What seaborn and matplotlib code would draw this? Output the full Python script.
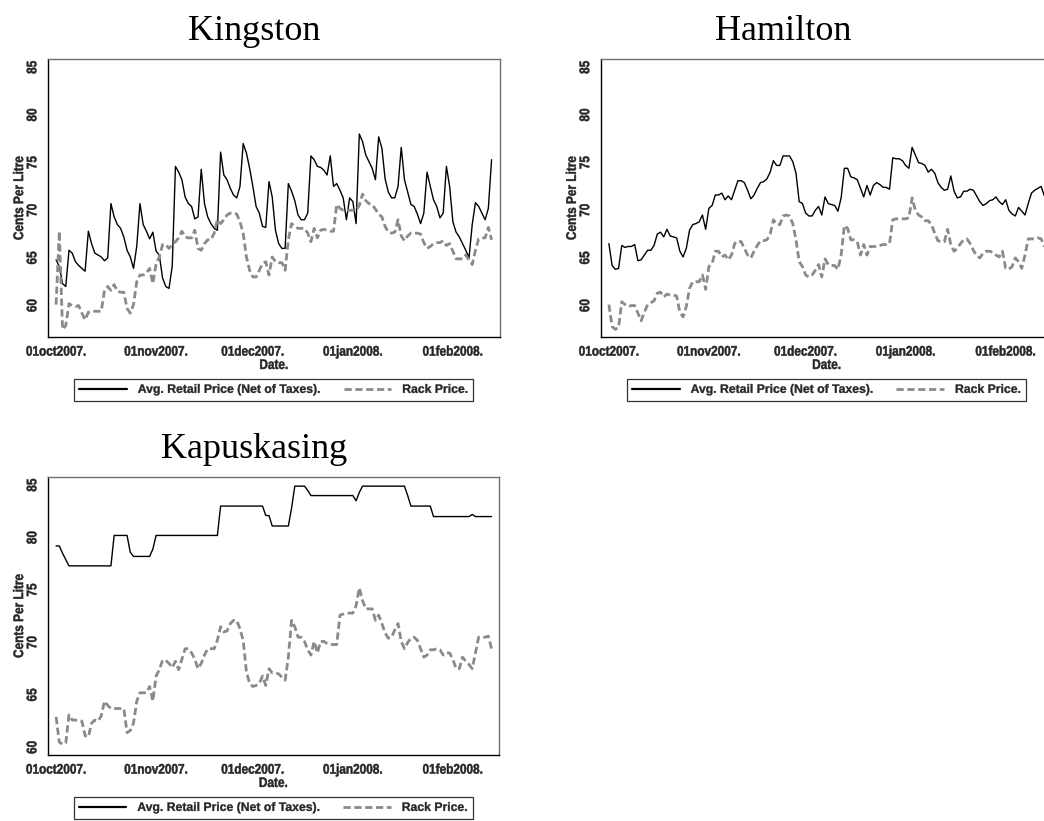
import matplotlib
matplotlib.use("Agg")
import matplotlib.pyplot as plt
import pandas as pd
import seaborn as sns
from matplotlib import font_manager
from matplotlib.patheffects import AbstractPathEffect
from matplotlib.transforms import Affine2D

# ---------------------------------------------------------------- data
start_date = "2007-10-01"

kingston_retail = [
    64.8, 64.1, 62.3, 62.0, 65.8, 65.5, 64.6, 64.2, 63.9, 63.6,
    67.8, 66.5, 65.5, 65.3, 65.1, 64.7, 65.0, 70.7, 69.3, 68.5,
    68.1, 67.2, 65.8, 65.1, 63.9, 66.2, 70.7, 68.5, 67.8, 67.0,
    67.7, 65.7, 65.3, 62.9, 62.0, 61.8, 64.1, 74.6, 74.0, 73.2,
    71.4, 70.7, 70.4, 69.1, 69.3, 74.3, 70.7, 69.3, 68.6, 68.1,
    67.9, 76.1, 73.7, 73.2, 72.3, 71.6, 71.3, 72.5, 77.0, 76.0,
    74.4, 72.5, 70.4, 69.7, 68.3, 68.2, 73.0, 71.4, 67.9, 66.5,
    66.0, 66.0, 72.8, 72.0, 71.0, 69.5, 69.0, 69.0, 69.7, 75.7,
    75.3, 74.6, 74.5, 74.2, 73.7, 75.7, 72.5, 72.8, 72.1, 71.3,
    69.0, 71.3, 70.9, 68.6, 78.0, 77.2, 75.8, 75.1, 74.4, 73.2,
    77.7, 76.5, 73.3, 71.9, 71.3, 71.3, 72.5, 76.6, 73.2, 71.9,
    70.6, 70.4, 69.6, 68.6, 69.7, 74.0, 72.5, 71.1, 70.4, 69.2,
    69.7, 74.6, 72.5, 68.8, 67.7, 67.2, 66.5, 65.8, 65.0, 68.5,
    70.8, 70.4, 69.7, 69.0, 70.2, 75.3,
]
kingston_rack = [
    60.1, 67.8, 57.5, 57.9, 60.2, 60.0, 59.9, 60.0, 59.2, 58.5,
    59.3, 59.4, 59.4, 59.4, 59.4, 61.6, 62.0, 61.6, 62.2, 61.5,
    61.4, 61.4, 59.7, 59.2, 60.1, 62.5, 63.2, 63.2, 63.4, 63.9,
    62.3, 64.4, 65.1, 66.4, 66.4, 66.0, 66.4, 66.7, 67.1, 67.8,
    67.2, 67.1, 67.1, 67.9, 66.0, 65.8, 66.5, 66.9, 66.9, 67.6,
    69.0, 68.6, 69.0, 69.5, 69.7, 69.7, 69.6, 68.8, 67.6, 65.1,
    63.7, 63.0, 63.0, 63.7, 64.4, 64.6, 63.2, 65.1, 64.6, 64.5,
    64.5, 63.7, 66.9, 68.6, 68.3, 68.1, 68.1, 68.1, 67.6, 66.7,
    68.1, 67.1, 67.9, 68.0, 67.9, 67.8, 67.8, 70.6, 70.2, 70.0,
    70.0, 70.0, 70.0, 70.0, 70.5, 71.7, 71.0, 70.7, 70.6, 70.1,
    69.6, 69.3, 68.3, 67.7, 67.6, 67.7, 69.0, 67.3, 66.8, 67.3,
    67.6, 67.6, 67.6, 67.5, 66.6, 66.0, 66.2, 66.5, 66.6, 66.6,
    66.8, 66.3, 66.5, 65.7, 64.9, 64.9, 64.9, 65.3, 64.8, 64.3,
    65.8, 67.0, 67.1, 67.1, 68.2, 66.9,
]
hamilton_retail = [
    66.5, 64.2, 63.8, 63.9, 66.3, 66.1, 66.2, 66.2, 66.4, 64.7,
    64.8, 65.3, 65.8, 65.8, 66.3, 67.5, 67.7, 67.2, 68.0, 67.3,
    67.2, 67.1, 65.7, 65.1, 66.0, 67.9, 68.5, 68.6, 68.8, 69.5,
    68.0, 70.2, 70.5, 71.6, 71.6, 71.8, 71.1, 71.5, 71.1, 72.1,
    73.1, 73.1, 72.9, 72.1, 71.2, 71.6, 72.3, 72.9, 73.0, 73.3,
    74.0, 75.2, 74.7, 74.7, 75.7, 75.7, 75.7, 75.1, 73.9, 70.9,
    70.7, 69.7, 69.4, 69.4, 70.0, 70.4, 69.5, 71.4, 70.7, 70.6,
    70.5, 69.9, 71.3, 74.4, 74.4, 73.5, 73.4, 73.2, 72.3, 71.4,
    72.6, 71.6, 72.6, 72.9, 72.7, 72.4, 72.4, 72.2, 75.5, 75.4,
    75.4, 75.2, 74.7, 74.4, 76.6, 75.8, 75.0, 74.9, 74.7, 74.0,
    74.3, 73.9, 72.9, 72.4, 72.1, 72.2, 73.6, 72.0, 71.3, 71.4,
    72.0, 72.0, 72.2, 72.1, 71.5, 70.9, 70.5, 70.7, 71.0, 71.1,
    71.4, 70.9, 70.6, 71.1, 70.0, 69.6, 69.4, 70.3, 69.9, 69.5,
    70.7, 71.8, 72.1, 72.3, 72.5, 71.5,
]
hamilton_rack = [
    60.1, 57.8, 57.5, 57.7, 60.4, 60.1, 59.9, 60.0, 60.0, 59.2,
    58.4, 59.3, 60.1, 60.3, 60.5, 61.3, 61.4, 60.9, 61.2, 61.1,
    61.1, 61.0, 59.3, 58.8, 59.9, 61.8, 62.5, 62.5, 62.5, 63.2,
    61.7, 64.1, 64.4, 65.7, 65.7, 65.1, 65.3, 64.8, 65.3, 66.5,
    66.8, 66.7, 66.0, 65.3, 65.0, 65.7, 66.3, 66.8, 66.8, 66.9,
    67.5, 69.0, 68.5, 68.5, 69.4, 69.5, 69.4, 68.6, 66.9, 64.6,
    64.1, 63.2, 63.0, 63.2, 63.7, 64.3, 63.0, 64.9, 64.3, 64.2,
    64.2, 63.8, 65.3, 68.4, 68.1, 66.9, 66.9, 66.7, 65.3, 66.4,
    65.3, 66.2, 66.2, 66.2, 66.3, 66.4, 66.4, 66.5, 69.0, 69.1,
    69.1, 69.1, 69.1, 69.2, 71.3, 70.0, 69.5, 69.3, 68.9, 68.9,
    68.5, 67.6, 66.8, 66.7, 66.7, 68.0, 66.4, 65.7, 66.0, 66.5,
    66.9, 67.0, 66.5, 65.8, 65.2, 65.0, 65.5, 65.7, 65.7, 65.6,
    65.3, 65.1, 65.7, 63.9, 63.8, 64.1, 65.0, 64.6, 63.9, 65.3,
    67.0, 67.0, 67.0, 67.1, 67.0, 66.2,
]
kapuskasing_retail = [
    79.2, 79.2, 78.5, 77.9, 77.3, 77.3, 77.3, 77.3, 77.3, 77.3,
    77.3, 77.3, 77.3, 77.3, 77.3, 77.3, 77.3, 77.3, 80.2, 80.2,
    80.2, 80.2, 80.2, 78.6, 78.2, 78.2, 78.2, 78.2, 78.2, 78.2,
    78.9, 80.2, 80.2, 80.2, 80.2, 80.2, 80.2, 80.2, 80.2, 80.2,
    80.2, 80.2, 80.2, 80.2, 80.2, 80.2, 80.2, 80.2, 80.2, 80.2,
    80.2, 83.0, 83.0, 83.0, 83.0, 83.0, 83.0, 83.0, 83.0, 83.0,
    83.0, 83.0, 83.0, 83.0, 83.0, 82.1, 82.1, 81.1, 81.1, 81.1,
    81.1, 81.1, 81.1, 82.8, 84.9, 84.9, 84.9, 84.9, 84.5, 84.0,
    84.0, 84.0, 84.0, 84.0, 84.0, 84.0, 84.0, 84.0, 84.0, 84.0,
    84.0, 84.0, 84.0, 83.5, 84.3, 84.9, 84.9, 84.9, 84.9, 84.9,
    84.9, 84.9, 84.9, 84.9, 84.9, 84.9, 84.9, 84.9, 84.9, 84.0,
    83.0, 83.0, 83.0, 83.0, 83.0, 83.0, 83.0, 82.0, 82.0, 82.0,
    82.0, 82.0, 82.0, 82.0, 82.0, 82.0, 82.0, 82.0, 82.0, 82.2,
    82.0, 82.0, 82.0, 82.0, 82.0, 82.0,
]
kapuskasing_rack = [
    62.9, 60.5, 60.3, 60.4, 63.1, 62.6, 62.6, 62.6, 62.5, 61.1,
    61.0, 62.3, 62.6, 62.5, 63.0, 64.4, 64.0, 63.7, 63.7, 63.7,
    63.7, 63.7, 61.4, 61.6, 62.3, 64.4, 65.2, 65.2, 65.2, 65.8,
    64.4, 66.8, 67.4, 68.3, 68.3, 68.0, 67.6, 68.2, 67.4, 68.4,
    69.4, 69.4, 69.0, 68.4, 67.5, 68.0, 68.8, 69.4, 69.4, 69.4,
    70.2, 71.5, 71.0, 71.1, 71.8, 72.1, 72.1, 71.3, 70.2, 67.2,
    66.1, 65.8, 65.9, 66.1, 66.8, 65.9, 67.5, 67.1, 67.1, 67.0,
    66.7, 66.4, 68.6, 72.1, 71.5, 70.5, 70.5, 70.1, 69.3, 68.8,
    70.1, 69.0, 70.1, 70.1, 69.9, 69.8, 69.8, 69.8, 72.6, 72.7,
    72.8, 72.8, 72.8, 73.5, 75.2, 74.0, 73.2, 73.2, 73.2, 72.1,
    72.6, 71.8, 70.9, 70.4, 70.5, 71.2, 71.8, 70.1, 69.4, 70.0,
    70.4, 70.5, 70.2, 69.4, 68.6, 68.8, 69.3, 69.3, 69.4, 69.3,
    68.8, 69.0, 69.0, 68.4, 67.5, 67.5, 68.6, 68.2, 67.9, 67.5,
    69.0, 70.5, 70.5, 70.5, 70.6, 69.4,
]

cities = ["Kingston", "Hamilton", "Kapuskasing"]
series_names = ["Avg. Retail Price (Net of Taxes).", "Rack Price."]
tick_dates = ["2007-10-01", "2007-11-01", "2007-12-01", "2008-01-01", "2008-02-01"]
tick_labels = ["01oct2007.", "01nov2007.", "01dec2007.", "01jan2008.", "01feb2008."]
y_ticks = [60, 65, 70, 75, 80, 85]
y_title = "Cents Per Litre"
x_title = "Date."


# ---------------------------------------------------------------- style
class Condense(AbstractPathEffect):
    """Squeeze glyph outlines along the text direction (a narrow, heavy-font look)."""

    def __init__(self, sx=0.85, stroke=0.0):
        super().__init__()
        self.sx = sx
        self.stroke = stroke

    def draw_path(self, renderer, gc, tpath, affine, rgbFace=None):
        ext = tpath.get_extents()
        cx = (ext.x0 + ext.x1) / 2
        squeeze = Affine2D().translate(-cx, 0).scale(self.sx, 1).translate(cx, 0)
        trans = squeeze + affine
        renderer.draw_path(gc, tpath, trans, rgbFace)
        if self.stroke > 0 and rgbFace is not None:
            gc2 = renderer.new_gc()
            gc2.copy_properties(gc)
            gc2.set_foreground(rgbFace)
            gc2.set_linewidth(self.stroke)
            renderer.draw_path(gc2, tpath, trans, None)
            gc2.restore()


sns.set_style("white")

names = {f.name for f in font_manager.fontManager.ttflist}
SANS = "Liberation Sans" if "Liberation Sans" in names else "DejaVu Sans"
SERIF = "Liberation Serif" if "Liberation Serif" in names else "DejaVu Serif"
plt.rcParams["font.family"] = [SANS, "DejaVu Sans"]

AX_FS = 10.0     # tick labels and axis titles (condensed)
LEG_FS = 8.8     # legend entries
RETAIL_COLOR = "#000000"
RACK_COLOR = "#8a8a8a"

W, H = 1044, 821
fig = plt.figure(figsize=(W / 100, H / 100), dpi=100)
fig.patch.set_facecolor("white")


def axes_px(left, top, right, bottom):
    return fig.add_axes([left / W, 1 - bottom / H, (right - left) / W, (bottom - top) / H])


panels = {
    "Kingston": dict(box=(47.7, 59, 500, 337), ylim=(56.7, 85.87), title=(254, 40),
                     retail=kingston_retail, rack=kingston_rack),
    "Hamilton": dict(box=(600.5, 59, 1052.8, 337), ylim=(56.7, 85.87), title=(783, 40),
                     retail=hamilton_retail, rack=hamilton_rack),
    "Kapuskasing": dict(box=(47.7, 476.7, 499, 755), ylim=(59.27, 85.8), title=(254, 458),
                        retail=kapuskasing_retail, rack=kapuskasing_rack),
}

t0 = pd.Timestamp(start_date)
DAY_PX = 100 / 31          # horizontal pixels per day
LEFT_PAD_DAYS = 2.6        # gap between y axis and first observation

for city in cities:
    p = panels[city]
    ax = axes_px(*p["box"])
    dates = pd.date_range(start_date, periods=len(p["retail"]), freq="D")
    df = pd.DataFrame({"date": dates, "retail": p["retail"], "rack": p["rack"]})

    sns.lineplot(data=df, x="date", y="retail", ax=ax, color=RETAIL_COLOR,
                 linewidth=1.0, estimator=None, errorbar=None, label=series_names[0])
    sns.lineplot(data=df, x="date", y="rack", ax=ax, color=RACK_COLOR,
                 linewidth=2.0, linestyle=(0, (2.6, 1.3)), estimator=None,
                 errorbar=None, label=series_names[1])

    left_px, top_px, right_px, bottom_px = p["box"]
    span_days = (right_px - left_px) / DAY_PX
    ax.set_xlim(t0 - pd.Timedelta(days=LEFT_PAD_DAYS),
                t0 + pd.Timedelta(days=span_days - LEFT_PAD_DAYS))
    ax.set_ylim(*p["ylim"])

    ax.set_xticks(pd.to_datetime(tick_dates))
    ax.set_xticklabels(tick_labels, fontsize=AX_FS, fontweight="bold")
    ax.set_yticks(y_ticks)
    ax.set_yticklabels([str(v) for v in y_ticks], fontsize=AX_FS, fontweight="bold",
                       rotation=90, va="center")
    ax.tick_params(axis="both", direction="out", length=4, width=0.9, color="black")
    ax.tick_params(axis="x", pad=1.5)
    ax.tick_params(axis="y", pad=2)

    ax.set_xlabel(x_title, fontsize=AX_FS, fontweight="bold", labelpad=-0.5)
    ax.set_ylabel(y_title, fontsize=AX_FS, fontweight="bold", labelpad=-0.5)

    squeeze = [Condense(0.85, stroke=0.35)]
    for lbl in ax.get_xticklabels() + ax.get_yticklabels():
        lbl.set_path_effects(squeeze)
    ax.xaxis.label.set_path_effects(squeeze)
    ax.yaxis.label.set_path_effects(squeeze)

    for side in ("left", "bottom"):
        ax.spines[side].set_color("black")
        ax.spines[side].set_linewidth(1.0)
    for side in ("top", "right"):
        ax.spines[side].set_color("#707070")
        ax.spines[side].set_linewidth(1.0)

    leg = ax.legend(loc="upper center", bbox_to_anchor=(0.5, -0.151), ncol=2,
                    frameon=True, fancybox=False, shadow=False,
                    prop={"family": [SANS, "DejaVu Sans"], "weight": "bold", "size": LEG_FS},
                    handlelength=3.9, handletextpad=0.9, columnspacing=1.8,
                    borderpad=0.4, borderaxespad=0)
    leg.get_frame().set_edgecolor("black")
    leg.get_frame().set_linewidth(0.9)
    leg.get_lines()[0].set_linewidth(1.6)
    for txt in leg.get_texts():
        txt.set_path_effects([Condense(1.0, stroke=0.25)])

    fig.text(p["title"][0] / W, 1 - p["title"][1] / H, city, ha="center",
             va="baseline", fontsize=26, family=SERIF, color="black")

fig.savefig("out.png", dpi=100, facecolor="white")
